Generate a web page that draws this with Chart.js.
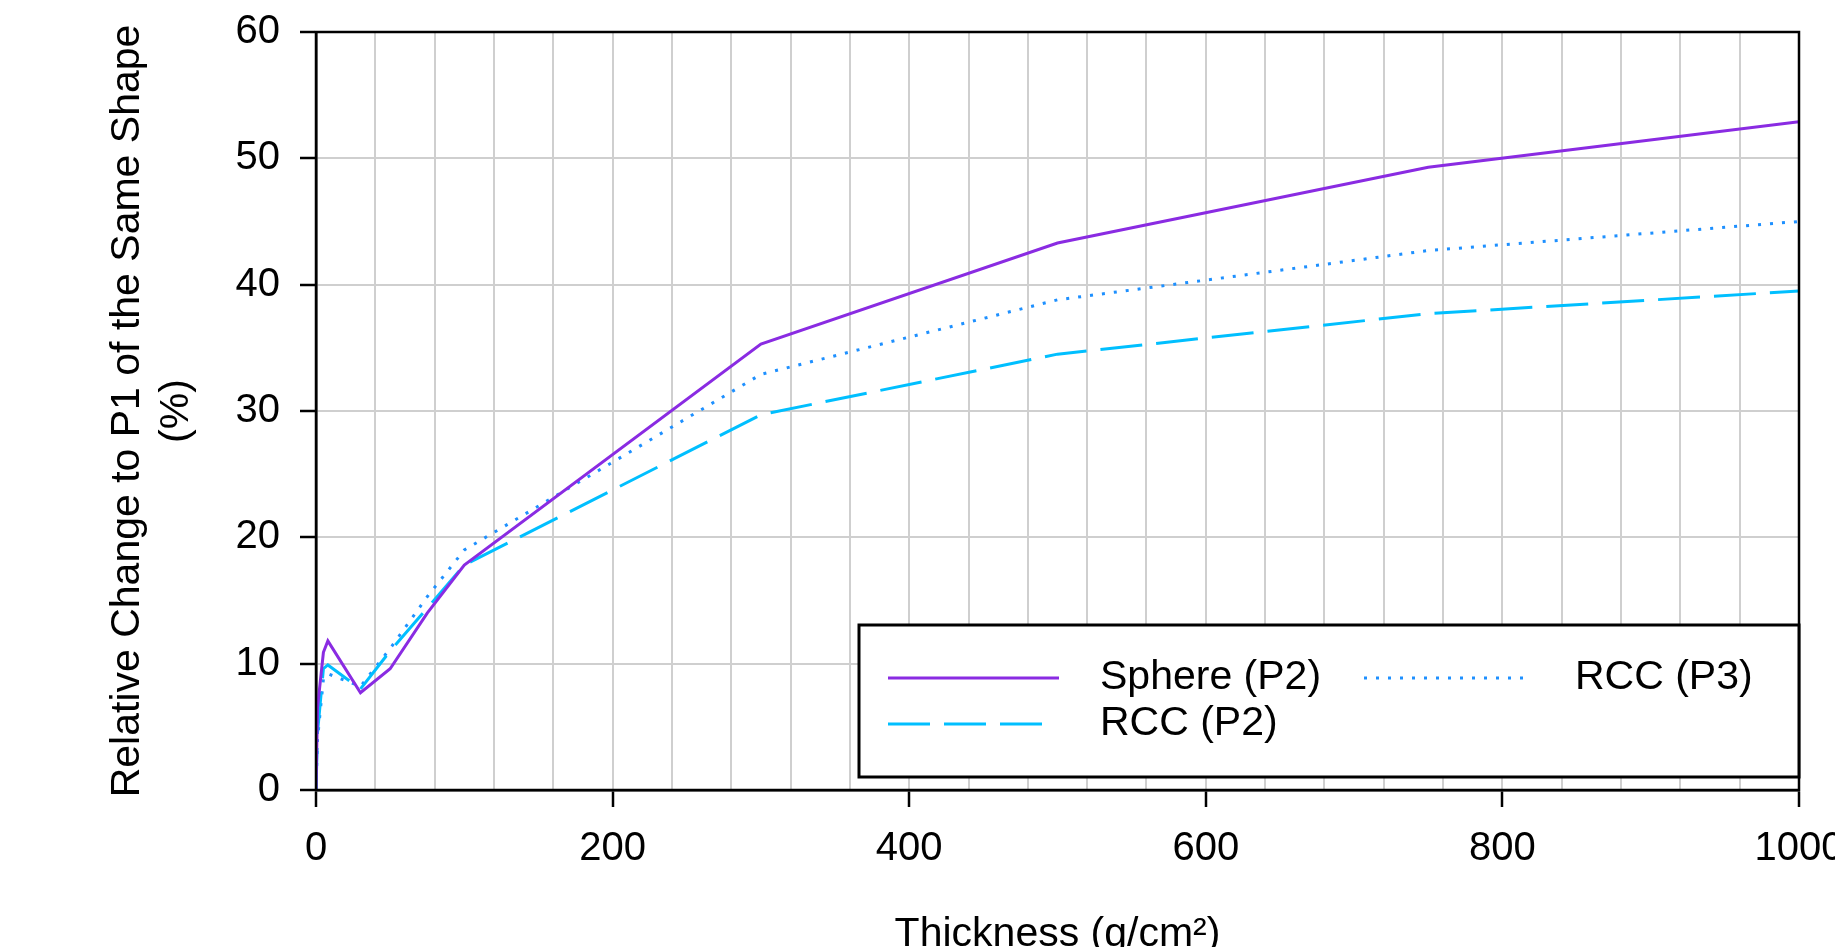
<!DOCTYPE html>
<html>
<head>
<meta charset="utf-8">
<script src="https://cdn.jsdelivr.net/npm/chart.js@4.4.1/dist/chart.umd.min.js"></script>
<style>
  html, body { margin: 0; padding: 0; background: #fff; overflow: hidden; }
  canvas { display: block; }
</style>
</head>
<body>
<canvas id="chart" width="1835" height="947"></canvas>
<script>
// values
const thickness = [0, 1, 5, 8, 30, 50, 75, 100, 300, 500, 750, 1000];
const sphereP2 = [0, 6.5, 10.9, 11.8, 7.7, 9.6, 14.0, 17.8, 35.3, 43.3, 49.3, 52.9];
const rccP2 = [0, 4.5, 9.6, 9.9, 8.0, 11.0, 14.4, 17.8, 29.7, 34.5, 37.7, 39.5];
const rccP3 = [0, 4.0, 8.8, 9.2, 8.2, 11.2, 15.3, 19.0, 32.9, 38.8, 42.7, 45.0];
const seriesNames = ['Sphere (P2)', 'RCC (P2)', 'RCC (P3)'];
const xTickLabels = [0, 200, 400, 600, 800, 1000];

const FONT = 'Liberation Sans, Arial, sans-serif';
Chart.defaults.font.family = FONT;
Chart.defaults.color = '#000';

function points(ys) {
    return thickness.map((x, i) => ({ x: x, y: ys[i] }));
}

// legend drawn by hand: two columns, Sphere / RCC(P3) on row 1, RCC(P2) on row 2
const boxLegend = {
    id: 'boxLegend',
    afterDraw(chart) {
        const ctx = chart.ctx;
        const area = chart.chartArea;
        const ds = chart.data.datasets;
        ctx.save();
        // frame of the plot
        ctx.strokeStyle = '#000';
        ctx.lineWidth = 2.5;
        ctx.strokeRect(area.left, area.top, area.right - area.left, area.bottom - area.top);

        ctx.fillStyle = '#fff';
        ctx.fillRect(859, 625, 940, 152);
        ctx.lineWidth = 3;
        ctx.strokeRect(859, 625, 940, 152);

        const items = [
            { i: 0, x0: 888, x1: 1059, tx: 1100, y: 678 },
            { i: 2, x0: 1364, x1: 1527, tx: 1575, y: 678 },
            { i: 1, x0: 888, x1: 1046, tx: 1100, y: 724 }
        ];
        ctx.font = '41px ' + FONT;
        ctx.textBaseline = 'middle';
        ctx.textAlign = 'left';
        items.forEach(it => {
            const d = ds[it.i];
            ctx.beginPath();
            ctx.setLineDash(d.borderDash || []);
            ctx.strokeStyle = d.borderColor;
            ctx.lineWidth = d.borderWidth;
            ctx.moveTo(it.x0, it.y);
            ctx.lineTo(it.x1, it.y);
            ctx.stroke();
            ctx.setLineDash([]);
            ctx.fillStyle = '#000';
            ctx.fillText(d.label, it.tx, it.y);
        });
        ctx.restore();
    }
};

const ctx = document.getElementById('chart').getContext('2d');
new Chart(ctx, {
    type: 'line',
    data: {
        datasets: [
            {
                label: seriesNames[0],
                data: points(sphereP2),
                borderColor: '#8a2be2',
                borderWidth: 3
            },
            {
                label: seriesNames[1],
                data: points(rccP2),
                borderColor: '#00bfff',
                borderWidth: 3,
                borderDash: [42, 14]
            },
            {
                label: seriesNames[2],
                data: points(rccP3),
                borderColor: '#1e90ff',
                borderWidth: 3,
                borderDash: [3, 9]
            }
        ]
    },
    options: {
        responsive: false,
        animation: false,
        elements: { point: { radius: 0 }, line: { tension: 0 } },
        layout: { padding: { top: 32, right: 36, left: 0, bottom: 0 } },
        plugins: {
            legend: { display: false },
            tooltip: { enabled: false }
        },
        scales: {
            x: {
                type: 'linear',
                min: 0,
                max: 1000,
                afterFit(s) {
                    s.height = 157;
                    s.paddingLeft = 0;
                    s.paddingRight = 0;
                },
                ticks: {
                    stepSize: 40,
                    autoSkip: false,
                    maxRotation: 0,
                    padding: 18,
                    font: { size: 40, lineHeight: 1.2 },
                    callback: v => xTickLabels.includes(Math.round(v)) ? String(Math.round(v)) : ''
                },
                grid: {
                    color: '#cfcfcf',
                    lineWidth: 2,
                    tickLength: 17,
                    tickWidth: 2.5,
                    tickColor: c => (c.tick && xTickLabels.includes(Math.round(c.tick.value))) ? '#000' : 'rgba(0,0,0,0)'
                },
                border: { color: '#000', width: 2.5 },
                title: {
                    display: true,
                    text: 'Thickness (g/cm²)',
                    font: { size: 41, lineHeight: 1.2 },
                    padding: { top: 0, bottom: -12 }
                }
            },
            y: {
                min: 0,
                max: 60,
                afterFit(s) {
                    s.width = 316;
                    s.paddingTop = 0;
                    s.paddingBottom = 0;
                },
                ticks: {
                    stepSize: 10,
                    padding: 20,
                    font: { size: 40, lineHeight: 1.2 }
                },
                grid: {
                    color: '#cfcfcf',
                    lineWidth: 2,
                    tickLength: 16,
                    tickWidth: 2.5,
                    tickColor: '#000'
                },
                border: { color: '#000', width: 2.5 },
                title: {
                    display: true,
                    text: ['Relative Change to P1 of the Same Shape', '(%)'],
                    font: { size: 41, lineHeight: 1.2 },
                    padding: { top: 103, bottom: 0 }
                }
            }
        }
    },
    plugins: [boxLegend]
});
</script>
</body>
</html>
